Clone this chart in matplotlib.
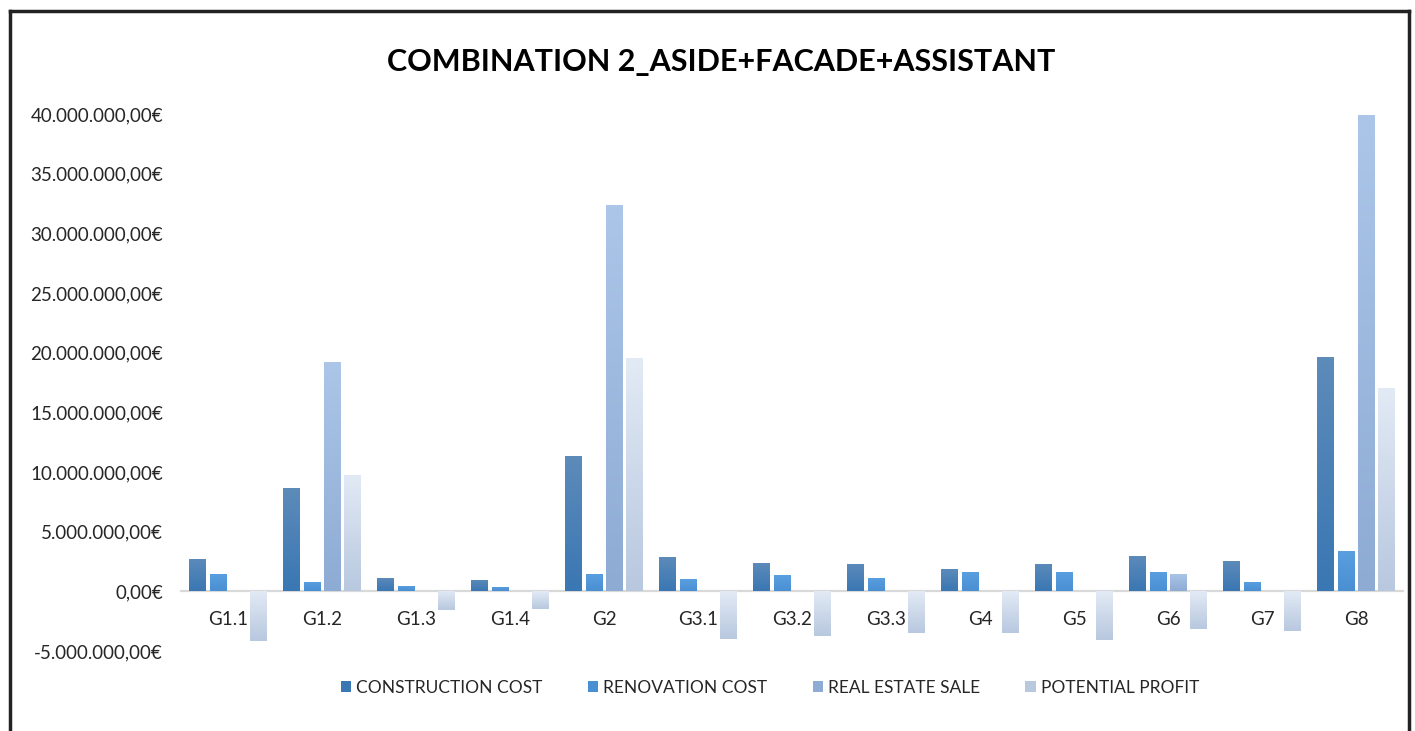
import numpy as np
import matplotlib.pyplot as plt
from matplotlib.colors import to_rgb
from matplotlib.lines import Line2D
from matplotlib.ticker import FuncFormatter

plt.rcParams['font.family'] = ['Lato', 'DejaVu Sans']

categories = ['G1.1', 'G1.2', 'G1.3', 'G1.4', 'G2', 'G3.1', 'G3.2', 'G3.3',
              'G4', 'G5', 'G6', 'G7', 'G8']
construction = [2.74, 8.67, 1.12, 0.98, 11.33, 2.88, 2.41, 2.29, 1.87, 2.32, 3.00, 2.54, 19.60]
renovation = [1.43, 0.81, 0.45, 0.36, 1.43, 1.00, 1.34, 1.12, 1.65, 1.65, 1.62, 0.80, 3.40]
real_estate = [0, 19.24, 0, 0, 32.40, 0, 0, 0, 0, 0, 1.47, 0, 39.90]
profit = [-4.20, 9.73, -1.60, -1.50, 19.52, -4.00, -3.78, -3.45, -3.50, -4.05, -3.15, -3.35, 17.00]
series_names = ['CONSTRUCTION COST', 'RENOVATION COST', 'REAL ESTATE SALE', 'POTENTIAL PROFIT']

# (top colour, bottom colour) gradients, Excel style
shades = [('#5d8bba', '#3a77b3'),
          ('#5a9fe0', '#4a8fd2'),
          ('#abc6e8', '#8eabd4'),
          ('#e2eaf5', '#b8c8df')]

fig = plt.figure(figsize=(14.15, 7.31), dpi=100)
ax = fig.add_axes([0.128, 0.1094, 0.8635, 0.7346])

x = np.arange(len(categories))
step, width = 0.216, 0.175
data = [construction, renovation, real_estate, profit]


def shade(bars, top, bot):
    t, b = np.array(to_rgb(top)), np.array(to_rgb(bot))
    f = np.linspace(0, 1, 64)[:, None, None]
    grad = t * (1 - f) + b * f
    for bar in bars:
        h = bar.get_height()
        if h == 0:
            continue
        x0, y0, w = bar.get_x(), bar.get_y(), bar.get_width()
        img = ax.imshow(grad, extent=[x0, x0 + w, min(y0, y0 + h), max(y0, y0 + h)],
                        origin='upper', aspect='auto', zorder=3, interpolation='bilinear')
        img.set_clip_path(bar)


for i, vals in enumerate(data):
    vals_eur = np.array(vals) * 1e6
    bars = ax.bar(x + (i - 1.5) * step, vals_eur, width=width, color=shades[i][1],
                  label=series_names[i], zorder=2, linewidth=0)
    shade(bars, *shades[i])

ax.set_xlim(-0.5, len(categories) - 0.5)
ax.set_ylim(-5e6, 40e6)
ax.set_yticks(np.arange(-5e6, 40.1e6, 5e6))


def eur(v, pos):
    s = f"{v:,.2f}".replace(',', 'X').replace('.', ',').replace('X', '.')
    return s + '€'


ax.yaxis.set_major_formatter(FuncFormatter(eur))
ax.tick_params(axis='y', length=0, pad=13, labelsize=13.5, labelcolor='#262626')

ax.spines['bottom'].set_position(('data', 0))
ax.spines['bottom'].set_color('#d9d9d9')
ax.spines['bottom'].set_linewidth(1.6)
ax.spines['bottom'].set_zorder(1)
for s in ['left', 'right', 'top']:
    ax.spines[s].set_visible(False)
ax.set_xticks(x)
ax.set_xticklabels(categories)
ax.tick_params(axis='x', length=0, pad=14, labelsize=13.5, labelcolor='#262626')

fig.text(0.5096, 0.915, 'COMBINATION 2_ASIDE+FACADE+ASSISTANT', ha='center', va='center',
         fontsize=22, fontweight='bold', color='black')

leg = fig.legend(loc='center', bbox_to_anchor=(770 / 1415, 1 - 688 / 731), ncol=4, frameon=False,
                 fontsize=12.5, handlelength=0.6, handleheight=0.6, handletextpad=0.3,
                 columnspacing=2.6)
for t in leg.get_texts():
    t.set_color('#262626')

# frame around the chart
for xs, ys in [([10 / 1415, 10 / 1415], [0, 1 - 11 / 731]),
               ([10 / 1415, 1409 / 1415], [1 - 11 / 731, 1 - 11 / 731]),
               ([1409 / 1415, 1409 / 1415], [0, 1 - 11 / 731])]:
    fig.add_artist(Line2D(xs, ys, transform=fig.transFigure, color='#222222', lw=2.5))

fig.savefig('out.png', dpi=100)
